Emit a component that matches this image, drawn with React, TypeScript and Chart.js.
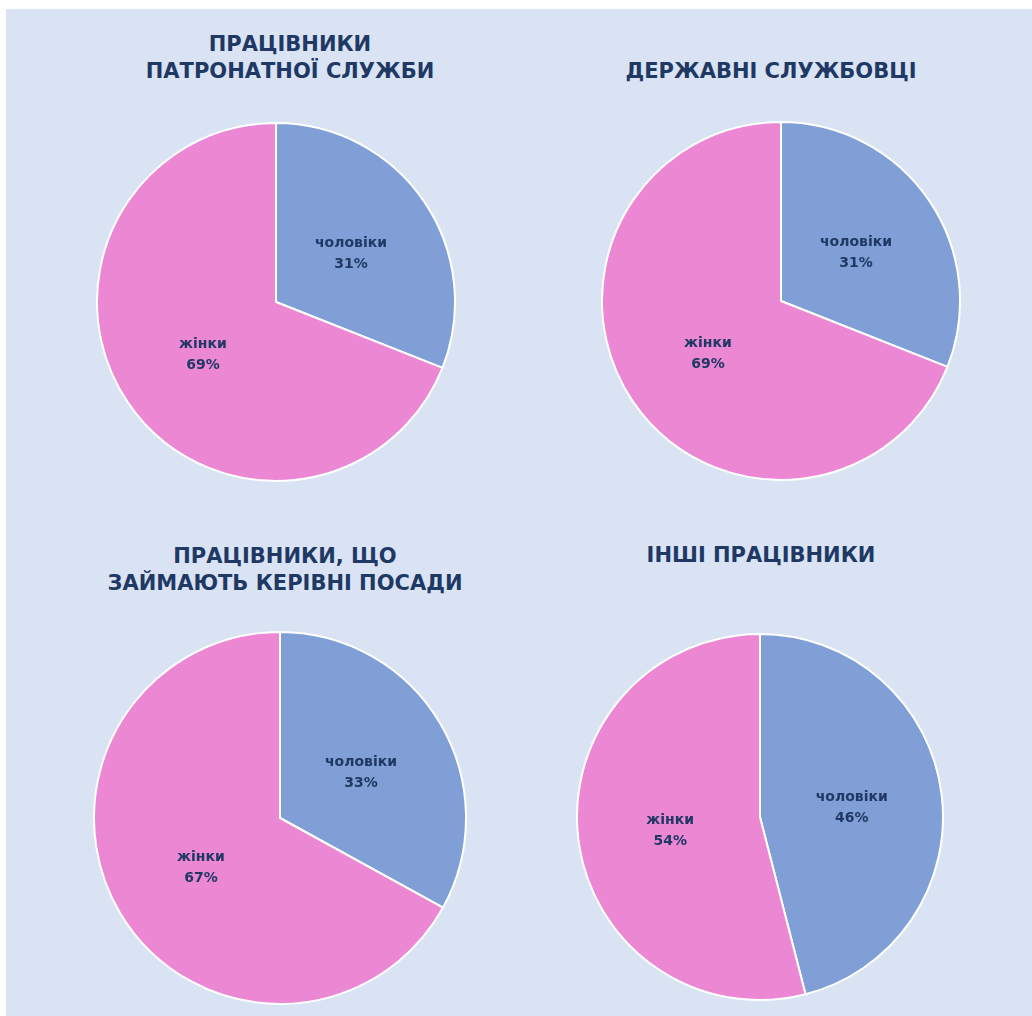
import React, { useEffect, useRef } from "react";
import { Chart, registerables } from "chart.js";

Chart.register(...registerables);

const categories = ["чоловіки", "жінки"];
const patronageValues = [31, 69];
const civilServantValues = [31, 69];
const managerValues = [33, 67];
const otherValues = [46, 54];
const titles = [
  ["ПРАЦІВНИКИ", "ПАТРОНАТНОЇ СЛУЖБИ"],
  ["ДЕРЖАВНІ СЛУЖБОВЦІ"],
  ["ПРАЦІВНИКИ, ЩО", "ЗАЙМАЮТЬ КЕРІВНІ ПОСАДИ"],
  ["ІНШІ ПРАЦІВНИКИ"],
];

const COLORS = ["#7f9fd6", "#ec87d4"];
const TEXT = "#203864";
const FONT = "'DejaVu Sans', sans-serif";
const BORDER = 2;

const labelPlugin = {
  id: "sliceLabels",
  afterDatasetsDraw(chart: any) {
    const ctx = chart.ctx;
    const meta = chart.getDatasetMeta(0);
    const data = chart.data.datasets[0].data;
    ctx.save();
    ctx.fillStyle = TEXT;
    ctx.textAlign = "center";
    ctx.textBaseline = "middle";
    ctx.font = `bold 14px ${FONT}`;
    meta.data.forEach((arc: any, i: number) => {
      const p = arc.tooltipPosition();
      ctx.fillText(String(chart.data.labels[i]), p.x + 1, p.y - 8);
      ctx.fillText(`${data[i]}%`, p.x + 1, p.y + 13);
    });
    ctx.restore();
  },
};

function Pie({ values, cx, cy, r }: { values: number[]; cx: number; cy: number; r: number }) {
  const ref = useRef<HTMLCanvasElement | null>(null);
  useEffect(() => {
    if (!ref.current) return;
    const chart = new Chart(ref.current, {
      type: "pie",
      data: {
        labels: categories,
        datasets: [
          {
            data: values,
            backgroundColor: COLORS,
            borderColor: "#ffffff",
            borderWidth: BORDER,
          },
        ],
      },
      options: {
        animation: false,
        responsive: true,
        maintainAspectRatio: false,
        layout: { padding: 0 },
        plugins: {
          legend: { display: false },
          tooltip: { enabled: false },
          title: { display: false },
        },
      },
      plugins: [labelPlugin],
    });
    return () => chart.destroy();
  }, [values]);
  const size = 2 * r + BORDER;
  return (
    <div
      style={{
        position: "absolute",
        left: cx - size / 2,
        top: cy - size / 2,
        width: size,
        height: size,
      }}
    >
      <canvas ref={ref} />
    </div>
  );
}

function Title({ lines, cx, cy }: { lines: string[]; cx: number; cy: number }) {
  const lh = 27;
  const h = lines.length * lh;
  return (
    <div
      style={{
        position: "absolute",
        left: cx - 300,
        top: cy - lh / 2,
        width: 600,
        height: h,
        textAlign: "center",
        fontFamily: FONT,
        fontWeight: "bold",
        fontSize: 21,
        lineHeight: `${lh}px`,
        color: TEXT,
      }}
    >
      {lines.map((l, i) => (
        <div key={i}>{l}</div>
      ))}
    </div>
  );
}

export default function App() {
  return (
    <div style={{ position: "absolute", left: 0, top: 0, width: 1032, height: 1016, background: "#ffffff", overflow: "hidden" }}>
      <div style={{ position: "absolute", left: 6, top: 9, width: 1026, height: 1007, background: "#dae3f3" }} />
      <Title lines={titles[0]} cx={290} cy={44} />
      <Title lines={titles[1]} cx={771} cy={71} />
      <Title lines={titles[2]} cx={285} cy={556} />
      <Title lines={titles[3]} cx={761} cy={555} />
      <Pie values={patronageValues} cx={276} cy={302} r={179} />
      <Pie values={civilServantValues} cx={781} cy={301} r={179} />
      <Pie values={managerValues} cx={280} cy={818} r={186} />
      <Pie values={otherValues} cx={760} cy={817} r={183} />
    </div>
  );
}
